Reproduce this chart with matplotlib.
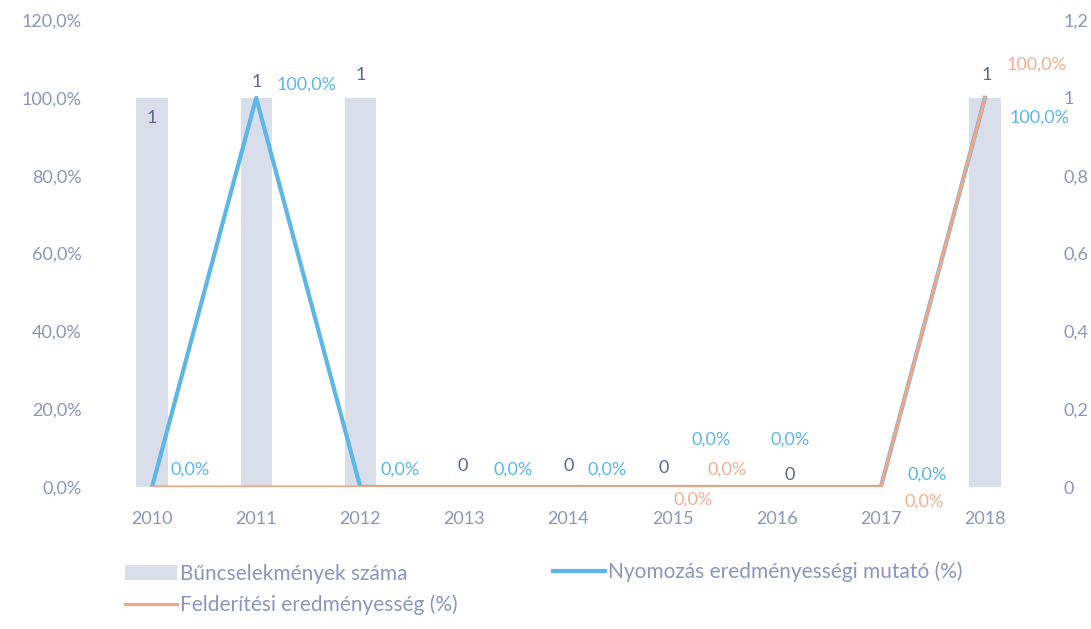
import matplotlib.pyplot as plt
from matplotlib.ticker import FuncFormatter, MultipleLocator

plt.rcParams['font.family'] = ['Lato', 'DejaVu Sans']

years = ['2010', '2011', '2012', '2013', '2014', '2015', '2016', '2017', '2018']
crimes = [1, 1, 1, 0, 0, 0, 0, 0, 1]
investigation = [0.0, 100.0, 0.0, 0.0, 0.0, 0.0, 0.0, 0.0, 100.0]
detection = [0.0, 0.0, 0.0, 0.0, 0.0, 0.0, 0.0, 0.0, 100.0]

c_bar = '#dadeea'
c_blue = '#5cb6e8'
c_orange = '#f2a586'
c_text = '#8c95bc'
c_dark = '#5b6592'

W, H = 1091, 629
fig = plt.figure(figsize=(W / 100, H / 100), dpi=100)
ax = fig.add_axes([100 / W, 1 - 487 / H, 937 / W, 467 / H])
axr = ax.twinx()
axr.set_zorder(ax.get_zorder() - 1)
ax.patch.set_visible(False)

x = list(range(len(years)))
bars = axr.bar(x, crimes, width=0.3, color=c_bar, label='Bűncselekmények száma')
ln_blue, = ax.plot(x, investigation, color=c_blue, lw=3.0,
                   label='Nyomozás eredményességi mutató (%)')
ln_orange, = ax.plot(x, detection, color=c_orange, lw=2.3,
                     label='Felderítési eredményesség (%)')

ax.set_xlim(-0.5, len(years) - 0.5)
ax.set_ylim(0, 120)
axr.set_ylim(0, 1.2)
ax.yaxis.set_major_locator(MultipleLocator(20))
axr.yaxis.set_major_locator(MultipleLocator(0.2))
pct = lambda v: f'{v:.1f}%'.replace('.', ',')
ax.yaxis.set_major_formatter(FuncFormatter(lambda v, p: pct(v)))
axr.yaxis.set_major_formatter(
    FuncFormatter(lambda v, p: f'{v:.1f}'.rstrip('0').rstrip('.').replace('.', ',')))
ax.set_xticks(x)
ax.set_xticklabels(years)

for a in (ax, axr):
    for s in a.spines.values():
        s.set_visible(False)
    a.tick_params(length=0, colors=c_text, labelsize=13)
ax.tick_params(axis='y', pad=13)
ax.tick_params(axis='x', pad=17)
axr.tick_params(axis='y', pad=19)

# data labels (offsets in pixels)
bar_off = [(0, -20), (1, 16), (0, 23), (-2, 21), (0, 21), (-9, 19), (13, 12), None, (2, 23)]
for i, v in enumerate(crimes):
    if bar_off[i] is None:
        continue
    axr.annotate(str(v), (i, v), xytext=bar_off[i], textcoords='offset pixels',
                 ha='center', va='center', color=c_dark, fontsize=13)

blue_off = [(38, 17), (50, 13), (40, 17), (49, 17), (39, 17), (39, 47), (13, 47), (46, 12), (55, -20)]
for i, v in enumerate(investigation):
    ax.annotate(pct(v), (i, v), xytext=blue_off[i], textcoords='offset pixels',
                ha='center', va='center', color=c_blue, fontsize=13)

orange_off = {5: (21, -13), 6: (-50, 17), 7: (43, -15), 8: (52, 33)}
for i, off in orange_off.items():
    ax.annotate(pct(detection[i]), (i, detection[i]), xytext=off, textcoords='offset pixels',
                ha='center', va='center', color=c_orange, fontsize=13, alpha=0.9)

leg_kw = dict(frameon=False, fontsize=15, labelcolor=c_text, handlelength=2.5,
              handletextpad=0.15, labelspacing=0.5, borderpad=0, borderaxespad=0,
              loc='center left')
fig.legend([bars, ln_orange], [bars.get_label(), ln_orange.get_label()],
           bbox_to_anchor=(125 / W, 1 - 589.5 / H), **leg_kw)
fig.legend([ln_blue], [ln_blue.get_label()], bbox_to_anchor=(553 / W, 1 - 572 / H), **leg_kw)

fig.savefig('out.png', dpi=100)
